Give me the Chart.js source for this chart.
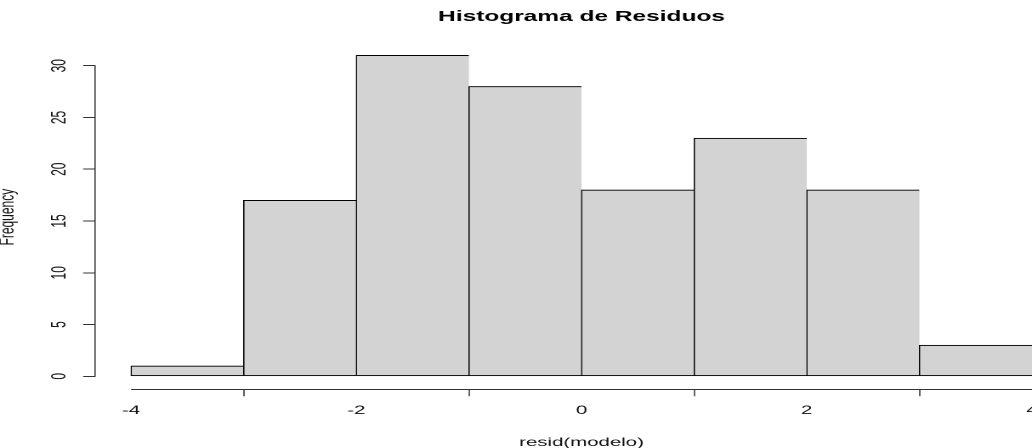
<!DOCTYPE html>
<html>
<head>
<meta charset="utf-8">
<script src="https://cdn.jsdelivr.net/npm/chart.js@4/dist/chart.umd.min.js"></script>
<style>
  html, body { margin: 0; padding: 0; background: #ffffff; overflow: hidden; }
  /* the plot is drawn on a narrow canvas and widened, giving the broad lettering */
  #wrap { width: 607px; height: 448px; transform-origin: 0 0; transform: scaleX(1.70016); }
</style>
</head>
<body>
<div id="wrap"><canvas id="c" width="607" height="448"></canvas></div>
<script>
// Histogram bins of resid(modelo): width 1, from -4 to 4
const binCenters = [-3.5, -2.5, -1.5, -0.5, 0.5, 1.5, 2.5, 3.5];
const counts = [1, 17, 31, 28, 18, 23, 18, 3];
const xTicks = [-4, -2, 0, 2, 4];
const yTicks = [0, 5, 10, 15, 20, 25, 30];
const mainTitle = 'Histograma de Residuos';
const xTitle = 'resid(modelo)';
const yTitle = 'Frequency';

const FONT = "'Liberation Sans', Arial, Helvetica, sans-serif";
const INK = '#111111';
const AXIS = '#333333';
const SX = 1032 / 607;            // horizontal widening of the canvas
const VLINE = 1.3 / SX;           // vertical strokes, about 1.3px once widened

// R-style detached axes (lines span first to last tick) and titles
// centred over the middle of the x range
const rAxes = {
  id: 'rAxes',
  afterDraw(chart) {
    const { ctx, chartArea, scales: { x, y } } = chart;
    ctx.save();
    ctx.strokeStyle = AXIS;
    // x axis line
    ctx.lineWidth = 1;
    const yLine = Math.round(chartArea.bottom) + 0.5;
    ctx.beginPath();
    ctx.moveTo(x.getPixelForValue(xTicks[0]), yLine);
    ctx.lineTo(x.getPixelForValue(xTicks[xTicks.length - 1]), yLine);
    ctx.stroke();
    // y axis line
    ctx.lineWidth = VLINE;
    ctx.beginPath();
    ctx.moveTo(chartArea.left, y.getPixelForValue(yTicks[0]) + 0.5);
    ctx.lineTo(chartArea.left, y.getPixelForValue(yTicks[yTicks.length - 1]) - 0.5);
    ctx.stroke();

    const cx = x.getPixelForValue((xTicks[0] + xTicks[xTicks.length - 1]) / 2);
    ctx.textAlign = 'center';
    ctx.textBaseline = 'alphabetic';
    ctx.fillStyle = '#000000';
    ctx.font = 'bold 14.4px ' + FONT;
    ctx.fillText(mainTitle, cx, 20.8);
    ctx.fillStyle = INK;
    ctx.font = '12px ' + FONT;
    ctx.fillText(xTitle, cx, 446);
    ctx.restore();
  }
};

new Chart(document.getElementById('c'), {
  type: 'bar',
  data: {
    datasets: [{
      data: binCenters.map((c, i) => ({ x: c, y: counts[i] })),
      backgroundColor: '#d3d3d3',
      borderColor: '#000000',
      borderWidth: { top: 1, bottom: 1, left: VLINE, right: 0 },
      borderSkipped: false,
      barPercentage: 1,
      categoryPercentage: 1
    }]
  },
  options: {
    responsive: false,
    animation: false,
    devicePixelRatio: 2,
    layout: { padding: { top: 45, left: 0, right: 0, bottom: 0 } },
    plugins: {
      legend: { display: false },
      tooltip: { enabled: false },
      title: { display: false }
    },
    scales: {
      x: {
        type: 'linear',
        min: -4.32,
        max: 4,
        offset: false,
        afterBuildTicks(scale) { scale.ticks = xTicks.map(v => ({ value: v })); },
        afterFit(scale) { scale.height = 58.7; scale.paddingLeft = 0; scale.paddingRight = 0; },
        border: { display: false },
        grid: {
          display: true, drawOnChartArea: false, drawTicks: true,
          tickLength: 7, tickWidth: VLINE, tickColor: AXIS
        },
        ticks: {
          color: INK, padding: 7.2, maxRotation: 0, autoSkip: false,
          font: { family: FONT, size: 12 }
        },
        title: { display: false }
      },
      y: {
        type: 'linear',
        min: -1.256,
        max: 32,
        afterBuildTicks(scale) { scale.ticks = yTicks.map(v => ({ value: v })); },
        afterFit(scale) { scale.width = 55.9; scale.paddingTop = 0; scale.paddingBottom = 0; },
        border: { display: false },
        grid: {
          display: true, drawOnChartArea: false, drawTicks: true,
          tickLength: 7, tickWidth: 1, tickColor: AXIS
        },
        ticks: {
          color: INK, padding: 7.2, minRotation: 90, maxRotation: 90,
          crossAlign: 'center', autoSkip: false,
          font: { family: FONT, size: 12 }
        },
        title: {
          display: true, text: yTitle, color: INK, padding: 0,
          font: { family: FONT, size: 12, lineHeight: 0.8 }
        }
      }
    }
  },
  plugins: [rAxes]
});
</script>
</body>
</html>
